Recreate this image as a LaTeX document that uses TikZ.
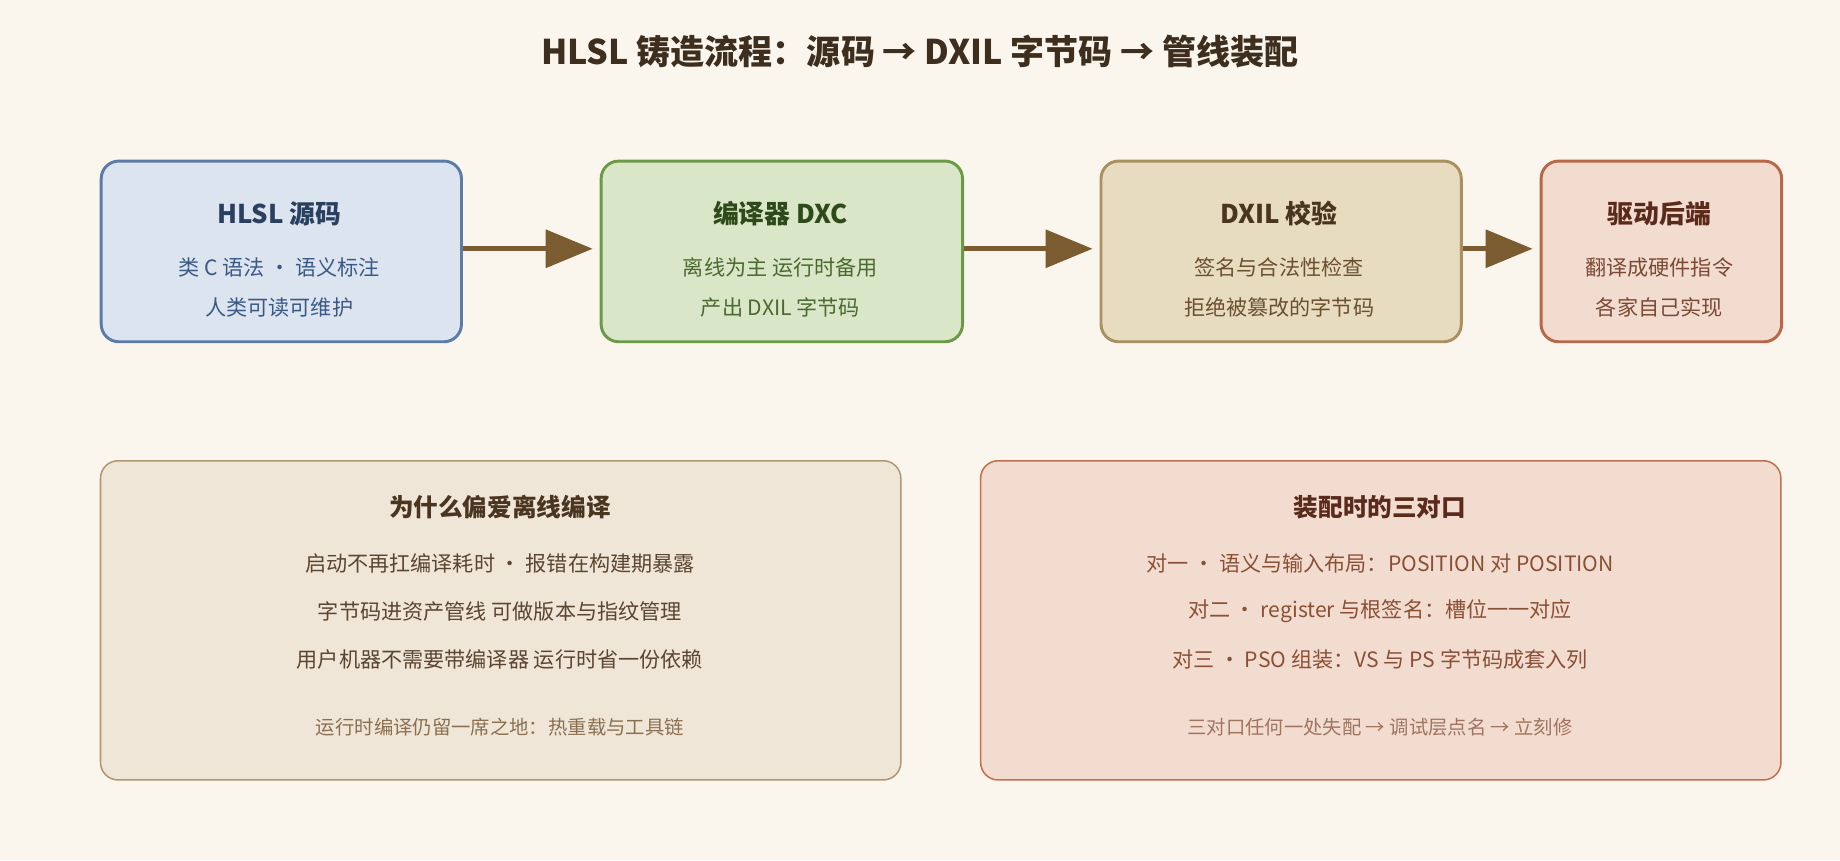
\documentclass[tikz,border=0pt]{standalone}
\usepackage{fontspec}
\setmainfont{Noto Sans CJK SC}
\usetikzlibrary{arrows.meta}
\definecolor{bg}{HTML}{FAF6EE}
\definecolor{arr}{HTML}{7A5C30}
\definecolor{ttlc}{HTML}{3D2E1E}
\definecolor{d1}{HTML}{5B7BA8}\definecolor{f1}{HTML}{DCE4EF}\definecolor{t1}{HTML}{2A4060}\definecolor{s1}{HTML}{3A5A85}
\definecolor{d2}{HTML}{6A9A45}\definecolor{f2}{HTML}{DAE6C8}\definecolor{t2}{HTML}{2F4A1A}\definecolor{s2}{HTML}{4A6A30}
\definecolor{d3}{HTML}{A89060}\definecolor{f3}{HTML}{E8DCC0}\definecolor{t3}{HTML}{4A3520}\definecolor{s3}{HTML}{6A5030}
\definecolor{d4}{HTML}{B86848}\definecolor{f4}{HTML}{F2DCD0}\definecolor{t4}{HTML}{5A2A1A}\definecolor{s4}{HTML}{7A4A35}
\definecolor{dl}{HTML}{B09870}\definecolor{fl}{HTML}{F0E6D8}\definecolor{sl}{HTML}{5A4530}\definecolor{nl}{HTML}{8A7050}
\definecolor{dr}{HTML}{C07050}\definecolor{sr}{HTML}{8A5035}\definecolor{nr}{HTML}{A07560}
\begin{document}
\begin{tikzpicture}[x=1pt,y=-1pt,
 box/.style={draw,line width=2.5pt,rounded corners=15pt,anchor=north west,inner sep=0pt},
 big/.style={draw,line width=1.3pt,rounded corners=15pt,anchor=north west,inner sep=0pt},
 ttl/.style={font=\fontsize{22}{26}\selectfont\bfseries},
 bod/.style={font=\fontsize{18}{22}\selectfont},
 flow/.style={line width=4pt,draw=arr,-{Triangle[length=40pt,width=32pt]}}]
\fill[bg] (0,0) rectangle (1568,733);
\useasboundingbox (0,0) rectangle (1568,733);
\node[font=\fontsize{29}{34}\selectfont\bfseries,text=ttlc] (t) at (784,44) {HLSL 铸造流程：源码 → DXIL 字节码 → 管线装配};
% top boxes
\node[box,draw=d1,fill=f1,minimum width=307pt,minimum height=154pt] (b1) at (85,136) {};
\node[box,draw=d2,fill=f2,minimum width=308pt,minimum height=154pt] (b2) at (511,136) {};
\node[box,draw=d3,fill=f3,minimum width=307pt,minimum height=154pt] (b3) at (937,136) {};
\node[box,draw=d4,fill=f4,minimum width=205pt,minimum height=154pt] (b4) at (1312,136) {};
\node[ttl,text=t1] (b1t) at (238,182) {HLSL 源码};
\node[bod,text=s1] (b1a) at (238,228) {类 C 语法 · 语义标注};
\node[bod,text=s1] (b1b) at (238,262) {人类可读可维护};
\node[ttl,text=t2] (b2t) at (665,182) {编译器 DXC};
\node[bod,text=s2] (b2a) at (665,228) {离线为主 运行时备用};
\node[bod,text=s2] (b2b) at (665,262) {产出 DXIL 字节码};
\node[ttl,text=t3] (b3t) at (1090,182) {DXIL 校验};
\node[bod,text=s3] (b3a) at (1090,228) {签名与合法性检查};
\node[bod,text=s3] (b3b) at (1090,262) {拒绝被篡改的字节码};
\node[ttl,text=t4] (b4t) at (1414,182) {驱动后端};
\node[bod,text=s4] (b4a) at (1414,228) {翻译成硬件指令};
\node[bod,text=s4] (b4b) at (1414,262) {各家自己实现};
\draw[flow] (b1.east|-0,212) -- (505,212);
\draw[flow] (b2.east|-0,212) -- (931,212);
\draw[flow] (b3.east|-0,212) -- (1306,212);
% bottom boxes
\node[big,draw=dl,fill=fl,minimum width=682pt,minimum height=272pt] (l) at (85,392) {};
\node[big,draw=dr,fill=f4,minimum width=682pt,minimum height=272pt] (r) at (835,392) {};
\node[font=\fontsize{21}{26}\selectfont\bfseries,text=t3] (lt) at (426,432) {为什么偏爱离线编译};
\node[bod,text=sl] (l1) at (426,480) {启动不再扛编译耗时 · 报错在构建期暴露};
\node[bod,text=sl] (l2) at (426,521) {字节码进资产管线 可做版本与指纹管理};
\node[bod,text=sl] (l3) at (426,562) {用户机器不需要带编译器 运行时省一份依赖};
\node[font=\fontsize{16.5}{20}\selectfont,text=nl] (l4) at (426,620) {运行时编译仍留一席之地：热重载与工具链};
\node[font=\fontsize{21}{26}\selectfont\bfseries,text=t4] (rt) at (1176,432) {装配时的三对口};
\node[bod,text=sr] (r1) at (1176,480) {对一 · 语义与输入布局：POSITION 对 POSITION};
\node[bod,text=sr] (r2) at (1176,521) {对二 · register 与根签名：槽位一一对应};
\node[bod,text=sr] (r3) at (1176,562) {对三 · PSO 组装：VS 与 PS 字节码成套入列};
\node[font=\fontsize{16.5}{20}\selectfont,text=nr] (r4) at (1176,620) {三对口任何一处失配 → 调试层点名 → 立刻修};
\end{tikzpicture}
\end{document}
